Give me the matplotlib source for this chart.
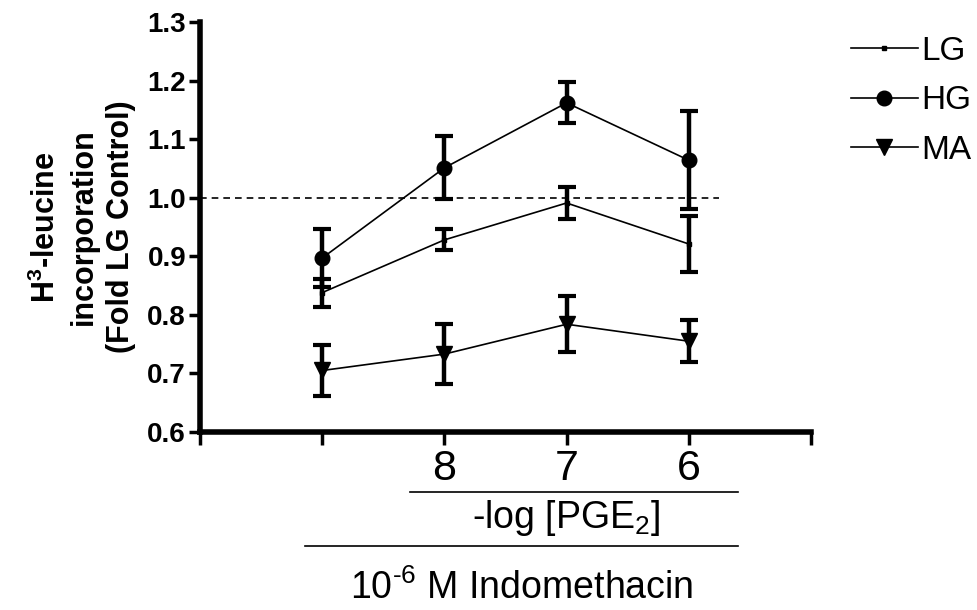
import matplotlib
matplotlib.use("Agg")
import matplotlib.pyplot as plt
import matplotlib.transforms as mtransforms
import numpy as np

plt.rcParams['font.family'] = ['Liberation Sans', 'DejaVu Sans']
plt.rcParams['mathtext.fontset'] = 'custom'
plt.rcParams['mathtext.rm'] = 'Liberation Sans'
plt.rcParams['mathtext.it'] = 'Liberation Sans:italic'
plt.rcParams['mathtext.bf'] = 'Liberation Sans:bold'

# x positions: first point is indomethacin alone, then -log[PGE2] = 8, 7, 6
x_pos = [1, 2, 3, 4]
tick_pos = [0, 1, 2, 3, 4, 5]
tick_labels = ['', '', '8', '7', '6', '']

lg_mean = [0.838, 0.928, 0.991, 0.921]
lg_err = [0.024, 0.018, 0.027, 0.048]

hg_mean = [0.897, 1.051, 1.162, 1.064]
hg_err = [0.050, 0.054, 0.035, 0.084]

ma_mean = [0.705, 0.733, 0.784, 0.755]
ma_err = [0.044, 0.051, 0.048, 0.036]

series = [
    ("LG", lg_mean, lg_err, 's', 3.5),
    ("HG", hg_mean, hg_err, 'o', 10.5),
    ("MA", ma_mean, ma_err, 'v', 12),
]

fig = plt.figure(figsize=(9.78, 6.10), dpi=100)
ax = fig.add_axes([200 / 978, 1 - 432 / 610, 611 / 978, 410 / 610])

ax.hlines(1.0, 0, 4.25, colors='k', linestyles=(0, (4, 3)), linewidth=1.2)

handles = []
for name, mean, err, marker, ms in series:
    ax.errorbar(x_pos, mean, yerr=err, fmt='none', ecolor='k',
                elinewidth=3.2, capsize=6.5, capthick=3.0, zorder=3)
    h, = ax.plot(x_pos, mean, color='k', linewidth=1.2, marker=marker,
                 markersize=ms, markerfacecolor='k', markeredgecolor='k',
                 label=name, zorder=4)
    handles.append(h)

ax.set_xlim(0, 5)
ax.set_ylim(0.6, 1.3)
yt = np.arange(0.6, 1.31, 0.1)
ax.set_yticks(yt)
ax.set_yticklabels([f"{v:.1f}" for v in yt], fontweight='bold', fontsize=20)
ax.set_xticks(tick_pos)
ax.set_xticklabels(tick_labels, fontsize=31)

for side in ['top', 'right']:
    ax.spines[side].set_visible(False)
for side in ['left', 'bottom']:
    ax.spines[side].set_linewidth(4)
ax.tick_params(axis='y', direction='out', length=8, width=2.5, pad=2)
ax.tick_params(axis='x', direction='out', length=9, width=2.5, pad=3)

ax.set_ylabel('H$^\\mathbf{3}$-leucine\nincorporation\n(Fold LG Control)',
              fontsize=22, fontweight='bold', linespacing=1.3, labelpad=8)

# bracket lines and labels under the x axis
trans = mtransforms.blended_transform_factory(ax.transData, ax.transAxes)
ax.plot([1.72, 4.40], [-0.146, -0.146], color='k', lw=1.2,
        transform=trans, clip_on=False)
ax.plot([0.86, 4.40], [-0.278, -0.278], color='k', lw=1.2,
        transform=trans, clip_on=False)
ax.text(3.0, -0.21, '-log [PGE$_2$]', fontsize=27, ha='center', va='center',
        transform=trans)
ax.text(2.63, -0.38, '10$^{\\text{-6}}$ M Indomethacin', fontsize=27,
        ha='center', va='center', transform=trans)

fig.legend(handles=handles, loc='upper left', bbox_to_anchor=(851 / 978, 1 - 36 / 610),
           frameon=False, fontsize=24, handlelength=2.0, handletextpad=0.1,
           labelspacing=0.55, borderaxespad=0, borderpad=0)

fig.savefig("out.png", dpi=100)
